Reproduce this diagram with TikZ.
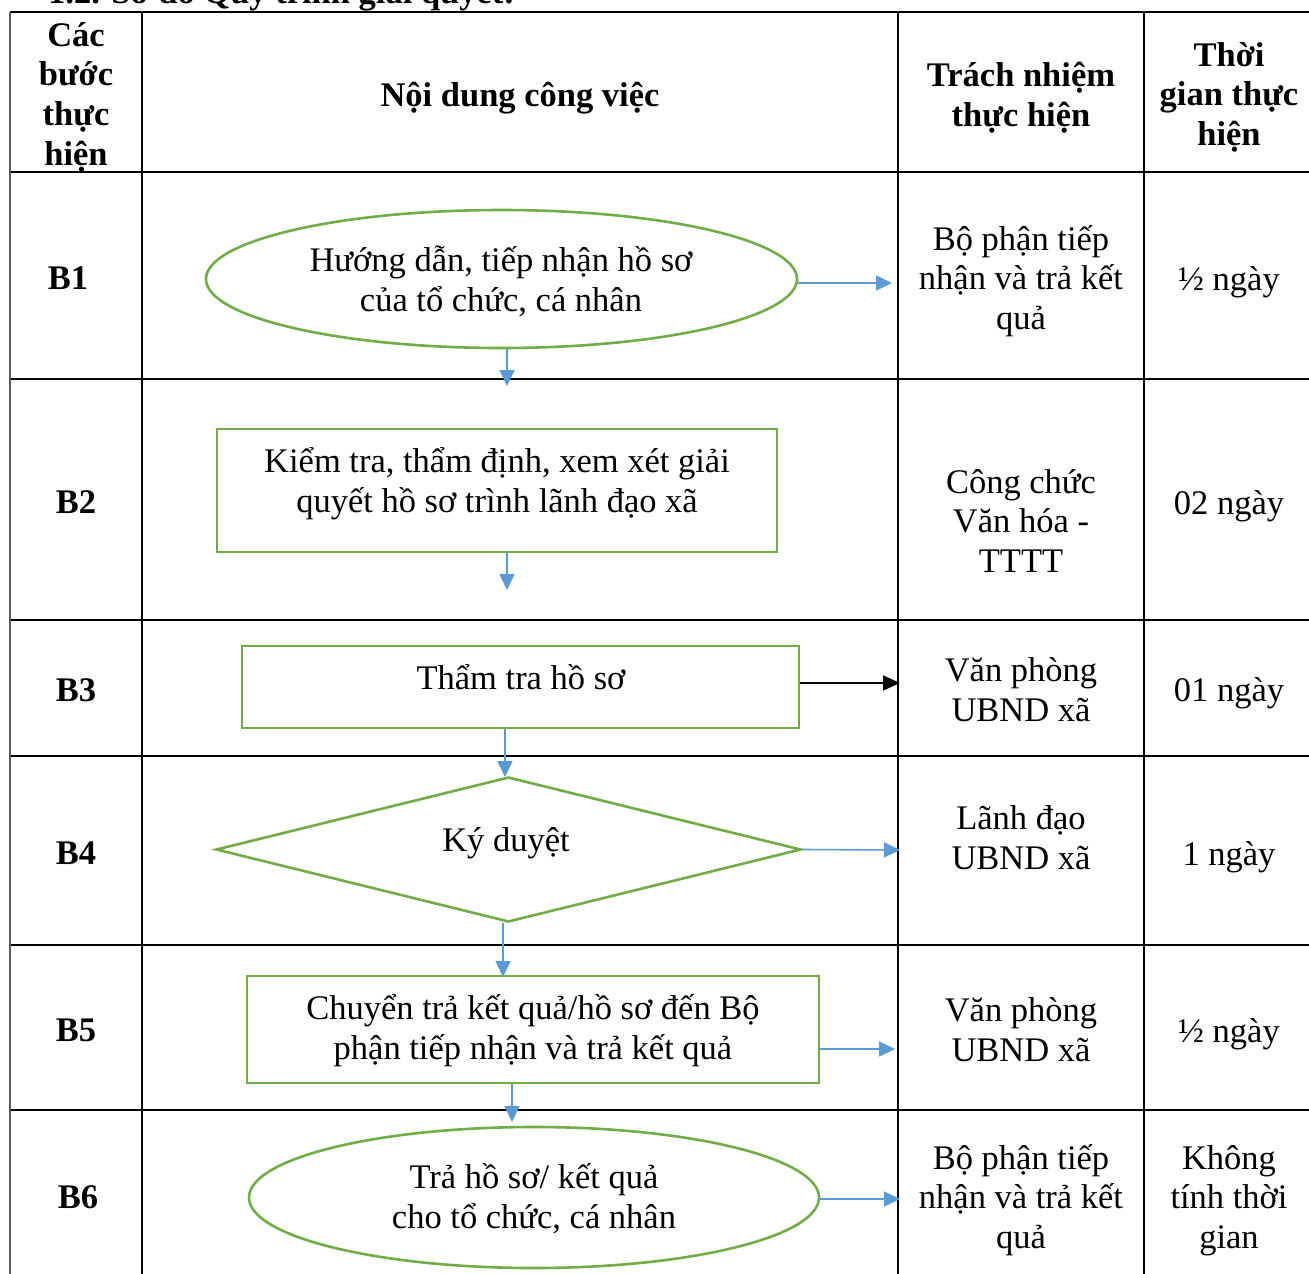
\documentclass[tikz,border=0pt]{standalone}
\usepackage{fontspec}
\setmainfont{Liberation Serif}
\usetikzlibrary{shapes.geometric,arrows.meta}
\definecolor{ogreen}{RGB}{112,173,71}
\definecolor{oblue}{RGB}{91,155,213}
\newcommand\Ta{\rule{0pt}{1.0em}}
\newcommand\Tb{\rule[-0.35em]{0pt}{0.35em}}
\newcommand\fsz{\fontsize{34.5}{39.7}\selectfont}
\tikzset{
  grid/.style={line width=1.4pt, black},
  txt/.style={inner sep=0pt, align=center, font=\fsz, yshift=-1.5pt},
  hdr/.style={txt, font=\fsz\bfseries},
  shapebox/.style={draw=ogreen, line width=2.6pt, inner sep=0pt},
  flow/.style={draw=oblue, line width=1.6pt, -{Triangle[length=16pt,width=15pt]}},
  flowk/.style={draw=black, line width=1.6pt, -{Triangle[length=17pt,width=15pt]}},
}
\begin{document}
\begin{tikzpicture}[x=1pt,y=-1pt]
\useasboundingbox (0,0) rectangle (1309,1274);
% title (cut off at top, as in the reference)
\node[anchor=base west, inner sep=0pt, font=\fsz\bfseries] (title) at (48,3) {1.2. Sơ đồ Quy trình giải quyết:};
% table grid
\foreach \yy in {12,172,379,620,756,945,1110} \draw[grid] (10,\yy) -- (1309,\yy);
\draw[line width=2.2pt, black!65] (10,12) -- (10,1274);
\foreach \xx in {142,898,1144} \draw[grid] (\xx,12) -- (\xx,1274);
% header
\node[hdr] (h1) at (76,93) {\Ta Các\\bước\\thực\\hiện\Tb};
\node[hdr] (h2) at (520,94) {\Ta Nội dung công việc\Tb};
\node[hdr] (h3) at (1021,93.5) {\Ta Trách nhiệm\\thực hiện\Tb};
\node[hdr] (h4) at (1229,93) {\Ta Thời\\gian thực\\hiện\Tb};
% step labels
\node[hdr] (b1) at (68,277) {\Ta B1\Tb};
\node[hdr] (b2) at (76,501) {\Ta B2\Tb};
\node[hdr] (b3) at (76,689) {\Ta B3\Tb};
\node[hdr] (b4) at (76,852) {\Ta B4\Tb};
\node[hdr] (b5) at (76,1029) {\Ta B5\Tb};
\node[hdr] (b6) at (78,1196) {\Ta B6\Tb};
% responsibility column
\node[txt] (r1c) at (1021,277) {\Ta Bộ phận tiếp\\nhận và trả kết\\quả\Tb};
\node[txt] (r2c) at (1021,520) {\Ta Công chức\\Văn hóa -\\TTTT\Tb};
\node[txt] (r3c) at (1021,689) {\Ta Văn phòng\\UBND xã\Tb};
\node[txt] (r4c) at (1021,837) {\Ta Lãnh đạo\\UBND xã\Tb};
\node[txt] (r5c) at (1021,1029) {\Ta Văn phòng\\UBND xã\Tb};
\node[txt] (r6c) at (1021,1196) {\Ta Bộ phận tiếp\\nhận và trả kết\\quả\Tb};
% time column
\node[txt] (t1c) at (1229,278) {\Ta ½ ngày\Tb};
\node[txt] (t2c) at (1229,502) {\Ta 02 ngày\Tb};
\node[txt] (t3c) at (1229,689) {\Ta 01 ngày\Tb};
\node[txt] (t4c) at (1229,853) {\Ta 1 ngày\Tb};
\node[txt] (t5c) at (1229,1030) {\Ta ½ ngày\Tb};
\node[txt] (t6c) at (1229,1196) {\Ta Không\\tính thời\\gian\Tb};
% flow shapes
\node[shapebox, ellipse, minimum width=591pt, minimum height=138pt] (e1) at (501.5,279) {};
\node[txt] (e1t) at (501,278.5) {\Ta Hướng dẫn, tiếp nhận hồ sơ\\của tổ chức, cá nhân\Tb};
\node[shapebox, rectangle, minimum width=560pt, minimum height=123pt] (s2) at (497,490.5) {};
\node[txt] (s2t) at (497,480) {\Ta Kiểm tra, thẩm định, xem xét giải\\quyết hồ sơ trình lãnh đạo xã\Tb};
\node[shapebox, rectangle, minimum width=557pt, minimum height=82pt] (s3) at (520.5,687) {};
\node[txt] (s3t) at (521,677) {\Ta Thẩm tra hồ sơ\Tb};
\node[shapebox, diamond, minimum width=585pt, minimum height=145pt] (d4) at (508.5,849.5) {};
\node[txt] (d4t) at (506,839) {\Ta Ký duyệt\Tb};
\node[shapebox, rectangle, minimum width=572pt, minimum height=107pt] (s5) at (533,1029.5) {};
\node[txt] (s5t) at (533,1027) {\Ta Chuyển trả kết quả/hồ sơ đến Bộ\\phận tiếp nhận và trả kết quả\Tb};
\node[shapebox, ellipse, minimum width=570pt, minimum height=141pt] (e6) at (534,1197.5) {};
\node[txt] (e6t) at (534,1196) {\Ta Trả hồ sơ/ kết quả\\cho tổ chức, cá nhân\Tb};
% arrow end points
\coordinate (p1) at (507,386);
\coordinate (q1) at (892,283);
\coordinate (p2) at (507,590);
\coordinate (q3) at (900,683);
\coordinate (p3) at (505,777);
\coordinate (q4) at (900,850);
\coordinate (p4) at (503,977);
\coordinate (q5) at (895,1049);
\coordinate (p5) at (512,1122);
\coordinate (q6) at (900,1199);
% connectors
\draw[flow] (p1 |- e1.south) -- (p1);
\draw[flow] (e1.east |- q1) -- (q1);
\draw[flow] (p2 |- s2.south) -- (p2);
\draw[flowk] (s3.east |- q3) -- (q3);
\draw[flow] (p3 |- s3.south) -- (p3);
\draw[flow] (d4.east) -- (q4);
\draw[flow] (p4 |- d4.south) -- (p4);
\draw[flow] (s5.east |- q5) -- (q5);
\draw[flow] (p5 |- s5.south) -- (p5);
\draw[flow] (e6.east |- q6) -- (q6);
\end{tikzpicture}
\end{document}
